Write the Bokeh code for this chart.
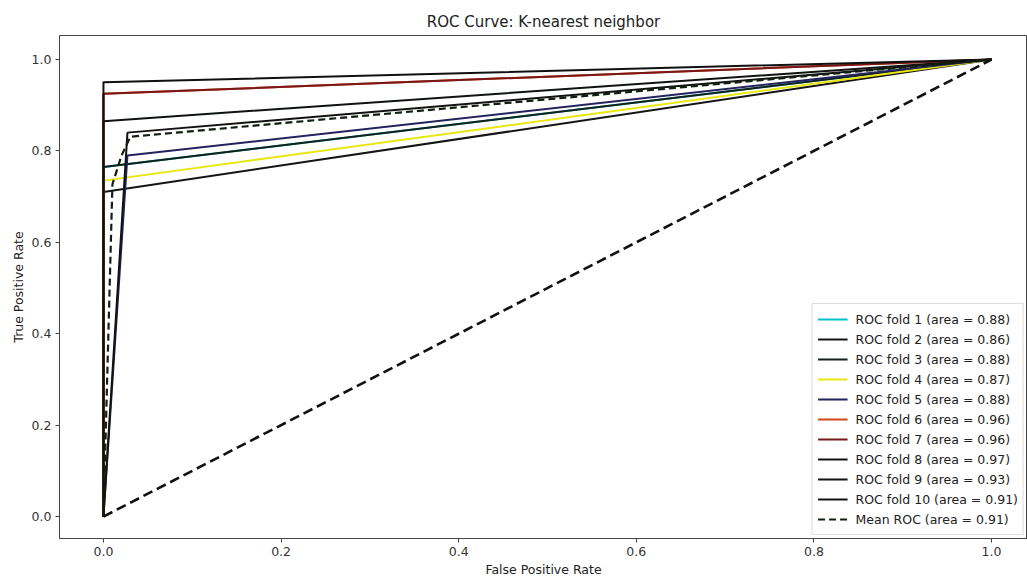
from bokeh.plotting import figure
from bokeh.models import Legend, LegendItem
from bokeh.embed import file_html
from bokeh.resources import INLINE

# ROC points (3-point ROC per fold)
fold_names = ["ROC fold 1", "ROC fold 2", "ROC fold 3", "ROC fold 4", "ROC fold 5",
              "ROC fold 6", "ROC fold 7", "ROC fold 8", "ROC fold 9", "ROC fold 10"]
fold_auc = [0.88, 0.86, 0.88, 0.87, 0.88, 0.96, 0.96, 0.97, 0.93, 0.91]
fold_fpr = [[0, 0, 1], [0, 0, 1], [0, 0, 1], [0, 0, 1], [0, 0.027, 1],
            [0, 0, 1], [0, 0, 1], [0, 0, 1], [0, 0, 1], [0, 0.027, 1]]
fold_tpr = [[0, 0.765, 1], [0, 0.71, 1], [0, 0.765, 1], [0, 0.735, 1], [0, 0.79, 1],
            [0, 0.925, 1], [0, 0.925, 1], [0, 0.95, 1], [0, 0.865, 1], [0, 0.84, 1]]
fold_colors = ["#00c0c8", "#151515", "#14201a", "#e8e810", "#23235e",
               "#d04818", "#7a1818", "#101010", "#101410", "#121212"]

mean_fpr = [0.0, 0.0101, 0.0202, 0.0303, 1.0]
mean_tpr = [0.0, 0.727, 0.789, 0.831, 1.0]
mean_auc = 0.91

chance_x = [0, 1]
chance_y = [0, 1]

xticks = [0.0, 0.2, 0.4, 0.6, 0.8, 1.0]
yticks = [0.0, 0.2, 0.4, 0.6, 0.8, 1.0]

FONT = "DejaVu Sans"

p = figure(width=1027, height=582, x_range=(-0.0495, 1.0405), y_range=(-0.048, 1.0525),
           output_backend="svg", toolbar_location=None,
           min_border_left=59, min_border_right=0, min_border_top=35, min_border_bottom=44,
           title="ROC Curve: K-nearest neighbor")
p.background_fill_color = "white"
p.border_fill_color = "white"
p.outline_line_color = "#444444"
p.outline_line_width = 1
p.xgrid.visible = False
p.ygrid.visible = False

p.title.align = "center"
p.title.text_font = FONT
p.title.text_font_size = "15px"
p.title.text_font_style = "normal"
p.title.text_color = "#222222"

for ax in (p.xaxis[0], p.yaxis[0]):
    ax.major_label_text_font = FONT
    ax.major_label_text_font_size = "12.5px"
    ax.major_label_text_color = "#333333"
    ax.axis_label_text_font = FONT
    ax.axis_label_text_font_size = "12.5px"
    ax.axis_label_text_font_style = "normal"
    ax.axis_label_text_color = "#222222"
    ax.axis_line_color = "#444444"
    ax.major_tick_line_color = "#444444"
    ax.major_tick_in = 0
    ax.major_tick_out = 4
    ax.minor_tick_line_color = None
    ax.major_label_standoff = 4
    ax.axis_label_standoff = 3

p.xaxis[0].ticker = xticks
p.yaxis[0].ticker = yticks
p.xaxis[0].axis_label = "False Positive Rate"
p.yaxis[0].axis_label = "True Positive Rate"
p.xaxis[0].major_label_overrides = {t: f"{t:.1f}" for t in xticks}
p.yaxis[0].major_label_overrides = {t: f"{t:.1f}" for t in yticks}

items = []
for name, auc, fx, fy, col in zip(fold_names, fold_auc, fold_fpr, fold_tpr, fold_colors):
    r = p.line(fx, fy, line_color=col, line_width=2)
    items.append(LegendItem(label=f"{name} (area = {auc:.2f})", renderers=[r]))

p.line(chance_x, chance_y, line_color="#111111", line_width=2.6, line_dash="10 5")
rm = p.line(mean_fpr, mean_tpr, line_color="#102010", line_width=2.2, line_dash="7 4")
items.append(LegendItem(label=f"Mean ROC (area = {mean_auc:.2f})", renderers=[rm]))

legend = Legend(items=items, location="bottom_right")
legend.label_text_font = FONT
legend.label_text_font_size = "12.5px"
legend.label_text_color = "#222222"
legend.label_height = 20
legend.glyph_height = 20
legend.glyph_width = 30
legend.spacing = 0
legend.padding = 5
legend.margin = 3
legend.label_standoff = 8
legend.border_line_color = "#bbbbbb"
legend.border_line_width = 1
legend.background_fill_alpha = 1
p.add_layout(legend, "center")

open("out.html", "w").write(file_html(p, INLINE))
